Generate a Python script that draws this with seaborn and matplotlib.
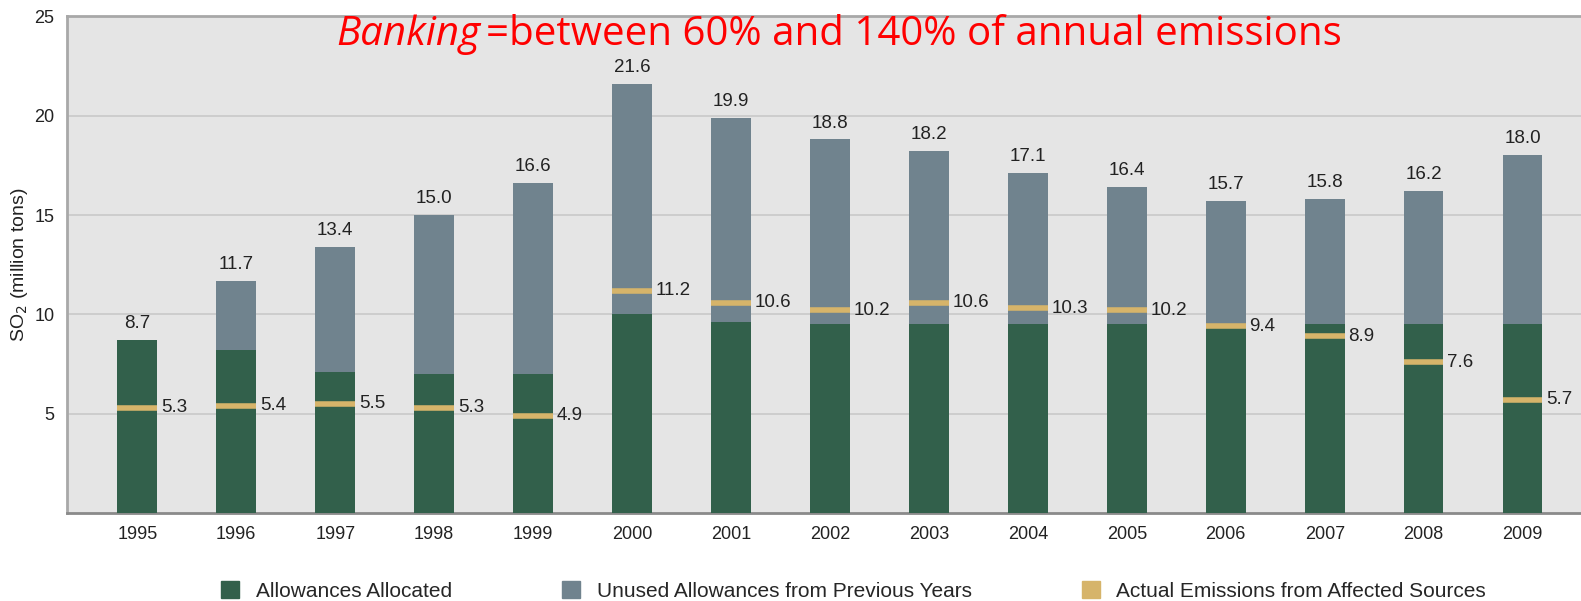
import matplotlib
matplotlib.use('Agg')
import matplotlib.pyplot as plt
import matplotlib.patches as mpatches
import seaborn as sns
import pandas as pd
import numpy as np

# Data (million tons SO2)
years = ['1995', '1996', '1997', '1998', '1999', '2000', '2001', '2002',
         '2003', '2004', '2005', '2006', '2007', '2008', '2009']
allocated = [8.7, 8.2, 7.1, 7.0, 7.0, 10.0, 9.6, 9.5, 9.5, 9.5, 9.5, 9.3, 9.5, 9.5, 9.5]
totals = [8.7, 11.7, 13.4, 15.0, 16.6, 21.6, 19.9, 18.8, 18.2, 17.1, 16.4, 15.7, 15.8, 16.2, 18.0]
emissions = [5.3, 5.4, 5.5, 5.3, 4.9, 11.2, 10.6, 10.2, 10.6, 10.3, 10.2, 9.4, 8.9, 7.6, 5.7]
legend_labels = ['Allowances Allocated', 'Unused Allowances from Previous Years',
                 'Actual Emissions from Affected Sources']

green = '#32604b'
slate = '#70838e'
gold = '#d6b46a'

sns.set_style('white')
plt.rcParams['font.family'] = ['Liberation Sans', 'DejaVu Sans']

df = pd.DataFrame({'year': years, 'allocated': allocated, 'total': totals, 'emissions': emissions})

fig = plt.figure(figsize=(15.81, 6.01), dpi=100)
ax = fig.add_axes([0.0424, 0.146, 0.9576, 0.827])
ax.set_facecolor('#e5e5e5')

sns.barplot(data=df, x='year', y='total', color=slate, width=0.4, saturation=1,
            linewidth=0, edgecolor='none', ax=ax, zorder=2)
sns.barplot(data=df, x='year', y='allocated', color=green, width=0.4, saturation=1,
            linewidth=0, edgecolor='none', ax=ax, zorder=3)

pos = np.arange(len(years))
half = 0.2
ax.hlines(df['emissions'], pos - half, pos + half, color=gold, lw=4, zorder=4)

for i, row in df.iterrows():
    ax.text(i, row['total'] + 0.4, f"{row['total']:.1f}", ha='center', va='bottom',
            fontsize=13.5, color='#222222')
    ax.text(i + half + 0.04, row['emissions'], f"{row['emissions']:.1f}", ha='left',
            va='center', fontsize=13.5, color='#222222')

ax.set_ylim(0, 25)
ax.set_xlim(-0.71, 14.59)
ax.set_yticks([5, 10, 15, 20, 25])
ax.yaxis.grid(True, color='#cbcbcb', lw=1.3, zorder=0)
ax.set_axisbelow(True)
ax.tick_params(axis='both', length=0, labelsize=13, colors='#222222')
ax.tick_params(axis='x', pad=9)
ax.tick_params(axis='y', pad=9)
ax.set_xlabel('')
ax.set_ylabel('SO$_2$ (million tons)', fontsize=14, color='#222222', labelpad=3)

for side in ['top', 'left']:
    ax.spines[side].set_color('#a8a8a8')
    ax.spines[side].set_linewidth(2)
ax.spines['bottom'].set_color('#8a8a8a')
ax.spines['bottom'].set_linewidth(2)
ax.spines['right'].set_visible(False)

# red annotation at the top
t1 = fig.text(0.2125, 0.942, 'Banking', color='red', fontsize=29, style='italic',
              family=['Open Sans', 'DejaVu Sans'], va='center')
fig.canvas.draw()
bb = t1.get_window_extent()
fig.text(bb.x1 / fig.bbox.width + 0.004, 0.942, '=between 60% and 140% of annual emissions',
         color='red', fontsize=29, family=['Open Sans', 'DejaVu Sans'], va='center')

handles = [mpatches.Patch(color=c) for c in [green, slate, gold]]
fig.legend(handles, legend_labels, loc='center', bbox_to_anchor=(0.54, 0.017), ncol=3,
           frameon=False, fontsize=15.0, handlelength=0.85, handleheight=0.85,
           columnspacing=5.3, handletextpad=0.8)

fig.savefig('out.png', dpi=100)
